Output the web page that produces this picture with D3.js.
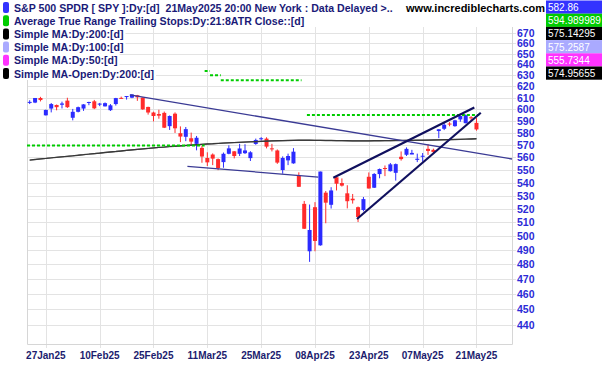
<!DOCTYPE html>
<html>
<head>
<meta charset="utf-8">
<script src="https://cdn.jsdelivr.net/npm/d3@7"></script>
<style>
  body { margin: 0; background: #fff; }
  svg { display: block; font-family: "Liberation Sans", Arial, sans-serif; }
</style>
</head>
<body>
<svg id="chart" width="602" height="365"></svg>
<script>
// SPY daily bars, 22 Jan 2025 - 21 May 2025 (trading days only)
const dates = ['2025-01-22','2025-01-23','2025-01-24','2025-01-27','2025-01-28','2025-01-29','2025-01-30','2025-01-31',
  '2025-02-03','2025-02-04','2025-02-05','2025-02-06','2025-02-07','2025-02-10','2025-02-11','2025-02-12','2025-02-13','2025-02-14',
  '2025-02-18','2025-02-19','2025-02-20','2025-02-21','2025-02-24','2025-02-25','2025-02-26','2025-02-27','2025-02-28',
  '2025-03-03','2025-03-04','2025-03-05','2025-03-06','2025-03-07','2025-03-10','2025-03-11','2025-03-12','2025-03-13','2025-03-14',
  '2025-03-17','2025-03-18','2025-03-19','2025-03-20','2025-03-21','2025-03-24','2025-03-25','2025-03-26','2025-03-27','2025-03-28',
  '2025-03-31','2025-04-01','2025-04-02','2025-04-03','2025-04-04','2025-04-07','2025-04-08','2025-04-09','2025-04-10','2025-04-11',
  '2025-04-14','2025-04-15','2025-04-16','2025-04-17','2025-04-21','2025-04-22','2025-04-23','2025-04-24','2025-04-25',
  '2025-04-28','2025-04-29','2025-04-30','2025-05-01','2025-05-02','2025-05-05','2025-05-06','2025-05-07','2025-05-08','2025-05-09',
  '2025-05-12','2025-05-13','2025-05-14','2025-05-15','2025-05-16','2025-05-19','2025-05-20','2025-05-21'];

const opens = [606.0,605.8,609.8,594.8,600.6,603.7,603.9,607.5,
  592.7,597.8,600.6,606.0,606.9,604.0,602.5,599.2,604.5,609.9,
  610.9,610.1,612.2,610.2,602.0,597.2,595.9,596.9,585.6,
  596.2,579.7,576.7,575.5,570.9,567.6,559.4,562.2,558.5,556.1,
  562.8,564.8,562.8,563.3,559.3,570.8,575.3,575.2,567.2,565.5,
  549.8,557.5,555.1,545.1,523.7,489.2,521.2,493.4,532.2,523.0,
  544.1,539.6,531.7,527.6,521.2,519.1,544.5,536.0,546.6,
  551.4,548.9,547.6,560.4,562.0,562.2,557.9,560.6,566.8,566.0,
  581.5,583.4,587.8,585.6,591.3,588.1,593.1,588.4];
const highs = [607.8,609.8,610.8,599.7,605.4,604.1,606.6,610.0,
  600.3,602.3,604.4,606.5,608.1,605.5,605.9,604.5,609.9,611.0,
  611.5,613.2,612.5,610.3,602.2,597.9,599.6,598.0,594.7,
  597.3,585.4,584.9,580.2,577.4,569.4,564.0,563.1,559.0,563.8,
  569.7,565.0,570.9,570.6,564.9,575.2,576.4,576.3,570.9,566.3,
  560.7,562.9,567.4,548.0,525.9,523.2,525.0,548.6,533.5,536.4,
  544.3,543.2,537.9,531.2,521.7,528.9,547.9,547.4,551.0,
  553.4,555.4,555.0,564.7,568.0,566.0,562.9,563.4,570.6,567.0,
  583.0,589.1,589.0,591.0,594.5,595.5,594.1,592.6];
const lows = [604.5,605.3,606.8,594.6,597.3,599.1,600.7,601.1,
  590.5,597.3,598.6,603.5,600.1,602.7,602.4,598.5,603.2,609.1,
  608.4,609.6,607.3,599.5,595.4,589.6,591.9,584.0,582.4,
  579.9,572.3,573.1,570.1,565.6,555.6,553.0,553.7,549.7,551.6,
  562.4,559.1,561.0,562.6,557.0,570.1,573.6,567.2,564.7,554.7,
  546.9,553.7,554.8,536.7,505.1,481.8,489.2,493.1,509.3,520.2,
  533.9,536.9,520.3,523.9,510.2,518.1,535.4,535.8,543.3,
  545.0,548.6,541.5,557.3,561.0,562.5,556.1,556.5,561.9,562.8,
  575.6,582.3,585.5,585.1,589.3,588.0,589.7,581.8];
const closes = [606.4,609.8,608.0,599.4,604.5,601.8,605.0,601.8,
  597.8,601.8,604.2,606.3,600.8,604.9,605.3,603.4,609.7,609.7,
  611.5,612.9,610.4,599.9,597.2,594.2,594.5,584.3,594.2,
  583.8,576.9,583.1,572.7,575.9,560.6,555.9,558.9,551.4,562.8,
  567.2,561.0,567.1,565.5,564.0,574.1,575.5,568.6,567.1,555.7,
  559.4,561.0,564.5,536.7,505.3,504.4,496.5,548.6,524.6,533.9,
  539.1,537.6,525.7,526.4,513.9,527.3,535.4,546.7,550.6,
  550.9,554.3,554.5,558.5,566.8,563.5,558.8,561.2,565.1,564.3,
  583.0,586.8,587.6,590.5,594.2,594.9,592.9,582.86];

// Simple MA 200 (close) and Simple MA 200 (open)
const ma200 = [557.8,558.3,558.7,559.1,559.6,560.0,560.4,560.8,561.2,561.7,
  562.1,562.6,563.0,563.4,563.9,564.3,564.7,565.2,565.6,566.0,
  566.4,566.8,567.2,567.6,568.0,568.3,568.7,569.0,569.3,569.6,
  569.9,570.2,570.5,570.8,571.0,571.3,571.6,571.8,572.0,572.2,
  572.4,572.6,572.8,573.0,573.2,573.4,573.5,573.6,573.7,573.8,
  573.9,573.9,573.9,573.8,573.8,573.7,573.7,573.6,573.6,573.5,
  573.4,573.4,573.4,573.4,573.5,573.5,573.6,573.6,573.7,573.7,
  573.8,573.8,573.9,573.9,574.0,574.1,574.2,574.3,574.4,574.6,
  574.7,574.9,575.0,575.14];
const ma200Open = [557.6,558.1,558.6,559.0,559.4,559.9,560.3,560.7,561.1,561.5,
  562.0,562.4,562.9,563.3,563.7,564.2,564.6,565.0,565.5,565.9,
  566.3,566.7,567.1,567.5,567.9,568.2,568.6,568.9,569.2,569.5,
  569.8,570.1,570.4,570.7,570.9,571.2,571.5,571.7,571.9,572.1,
  572.3,572.5,572.7,572.9,573.1,573.3,573.4,573.5,573.6,573.7,
  573.8,573.8,573.8,573.7,573.7,573.6,573.6,573.5,573.5,573.4,
  573.3,573.3,573.3,573.3,573.4,573.4,573.5,573.5,573.6,573.6,
  573.7,573.7,573.8,573.8,573.9,574.0,574.1,574.2,574.3,574.4,
  574.6,574.7,574.8,574.96];

// ATR trailing stop, 21 days x 8 ATR (null = not shown)
const atrStop = [569.5,569.5,569.5,569.5,569.5,569.5,569.5,569.5,569.5,569.5,
  569.5,569.5,569.5,569.5,569.5,569.5,569.5,569.5,569.5,569.5,
  569.5,569.5,569.5,569.5,569.5,569.5,569.5,569.5,569.5,569.5,
  569.5,569.5,569.5,634.0,630.0,630.0,625.5,625.5,625.5,625.5,
  625.5,625.5,625.5,625.5,625.5,625.5,625.5,625.5,625.5,625.5,
  625.5,null,594.99,594.99,594.99,594.99,594.99,594.99,594.99,594.99,
  594.99,594.99,594.99,594.99,594.99,594.99,594.99,594.99,594.99,594.99,
  594.99,594.99,594.99,594.99,594.99,594.99,594.99,594.99,594.99,594.99,
  594.99,594.99,594.99,594.99];

// hand drawn trend lines: [bar index, price] end points
const thinLines = [
  [[18.6, 612.5], [89.6, 558.6]],
  [[29.3, 552.7], [53.6, 544.3]]
];
const wedgeLines = [
  [[56.4, 543.8], [82.6, 601.5]],
  [[60.8, 512.4], [83.8, 597.0]]
];

const xTickIdx = [3, 13, 23, 33, 43, 53, 63, 73, 83];
const xTickLabels = ['27Jan25','10Feb25','25Feb25','11Mar25','25Mar25','08Apr25','23Apr25','07May25','21May25'];
const yTicks = d3.range(440, 671, 10);

const legendNames = ['S&P 500 SPDR [ SPY ]:Dy:[d]  21May2025 20:00 New York : Data Delayed >..',
  'Average True Range Trailing Stops:Dy:21:8ATR Close::[d]',
  'Simple MA:Dy:200:[d]',
  'Simple MA:Dy:100:[d]',
  'Simple MA:Dy:50:[d]',
  'Simple MA-Open:Dy:200:[d]'];
const legendValues = ['582.86', '594.989989', '575.14295', '575.2587', '555.7344', '574.95655'];
const legendColors = ['#3333ff', '#00cc00', '#000000', '#aaaaff', '#ff33ff', '#000000'];

const svg = d3.select('#chart');
const plotLeft = 27, plotRight = 512, plotTop = 27, plotBottom = 344;

const x = d3.scaleLinear().domain([-0.5, 89.6]).range([plotLeft, plotRight]);
const y = d3.scaleLog().domain([440, 670]).range([325, 32.5]);

svg.append('rect').attr('width', 602).attr('height', 365).attr('fill', '#fff');

// grid
const grid = svg.append('g').attr('stroke', '#e3e3e3').attr('stroke-width', 1);
yTicks.forEach(v => {
  const yy = Math.round(y(v)) + 0.5;
  grid.append('line').attr('x1', plotLeft).attr('x2', plotRight + 4).attr('y1', yy).attr('y2', yy);
});
xTickIdx.forEach(i => {
  const xx = Math.round(x(i)) + 0.5;
  grid.append('line').attr('x1', xx).attr('x2', xx).attr('y1', plotTop).attr('y2', plotBottom + 4);
});
// frame
svg.append('path')
  .attr('d', `M${plotLeft + 0.5},${plotTop}V${plotBottom + 0.5}H${plotRight + 0.5}V${plotTop}`)
  .attr('stroke', '#d6d6d6').attr('stroke-width', 1).attr('fill', 'none');

// candles
const bars = dates.map((d, i) => ({i, o: opens[i], h: highs[i], l: lows[i], c: closes[i]}));
const candle = svg.append('g').selectAll('g').data(bars).join('g')
  .attr('fill', d => d.c >= d.o ? '#2b2bff' : '#ff2b2b')
  .attr('stroke', d => d.c >= d.o ? '#2b2bff' : '#ff2b2b');
candle.append('line')
  .attr('x1', d => x(d.i)).attr('x2', d => x(d.i))
  .attr('y1', d => y(d.h)).attr('y2', d => y(d.l))
  .attr('stroke-width', 1);
candle.append('rect')
  .attr('x', d => x(d.i) - 2)
  .attr('width', 4)
  .attr('y', d => y(Math.max(d.o, d.c)))
  .attr('height', d => Math.max(1, Math.abs(y(d.o) - y(d.c))))
  .attr('stroke', 'none');

// moving averages
const maLine = d3.line().x((d, i) => x(i)).y(d => y(d));
svg.append('path').datum(ma200Open).attr('d', maLine)
  .attr('fill', 'none').attr('stroke', '#505050').attr('stroke-width', 1.2);
svg.append('path').datum(ma200).attr('d', maLine)
  .attr('fill', 'none').attr('stroke', '#383838').attr('stroke-width', 1.2);

// ATR stop as runs of equal value
let runs = [];
atrStop.forEach((v, i) => {
  if (v === null) return;
  const last = runs[runs.length - 1];
  if (last && last.v === v && last.end === i - 1) last.end = i;
  else runs.push({v, start: i, end: i});
});
svg.append('g').selectAll('line').data(runs).join('line')
  .attr('x1', d => x(d.start - 0.5)).attr('x2', d => x(d.end + 0.5))
  .attr('y1', d => y(d.v)).attr('y2', d => y(d.v))
  .attr('stroke', '#00cc00').attr('stroke-width', 2).attr('stroke-dasharray', '3,2');

// trend lines
svg.append('g').selectAll('line').data(thinLines).join('line')
  .attr('x1', d => x(d[0][0])).attr('y1', d => y(d[0][1]))
  .attr('x2', d => x(d[1][0])).attr('y2', d => y(d[1][1]))
  .attr('stroke', '#3a3a94').attr('stroke-width', 1.3);
svg.append('g').selectAll('line').data(wedgeLines).join('line')
  .attr('x1', d => x(d[0][0])).attr('y1', d => y(d[0][1]))
  .attr('x2', d => x(d[1][0])).attr('y2', d => y(d[1][1]))
  .attr('stroke', '#10105e').attr('stroke-width', 2.2);

// right price axis
svg.append('g').selectAll('text').data(yTicks).join('text')
  .attr('x', 517).attr('y', d => y(d) + 4)
  .attr('font-size', 10.5).attr('font-weight', 'bold').attr('fill', '#2b2bd6')
  .text(d => d);

// date axis
svg.append('g').selectAll('text').data(xTickIdx).join('text')
  .attr('x', d => x(d)).attr('y', 359)
  .attr('text-anchor', 'middle')
  .attr('font-size', 10).attr('font-weight', 'bold').attr('fill', '#1c1c6e')
  .text((d, k) => xTickLabels[k]);

// legend
const legend = svg.append('g');
legendNames.forEach((name, k) => {
  const cy = 7.5 + k * 13.2;
  const row = legend.append('g');
  const bg = row.append('rect').attr('x', 0).attr('y', cy - 6.5).attr('height', 13).attr('fill', '#fff');
  row.append('rect').attr('x', 3).attr('y', cy - 5.5).attr('width', 6).attr('height', 11).attr('rx', 2)
    .attr('fill', legendColors[k]);
  const t = row.append('text').attr('x', 14).attr('y', cy + 4)
    .attr('font-size', 10.6).attr('font-weight', 'bold').attr('fill', '#1a1a78')
    .style('white-space', 'pre')
    .text(name);
  bg.attr('width', 16 + t.node().getComputedTextLength());
});

svg.append('text').attr('x', 545).attr('y', 12).attr('text-anchor', 'end')
  .attr('font-size', 11).attr('font-weight', 'bold').attr('fill', '#000')
  .text('www.incrediblecharts.com');

const values = svg.append('g');
legendValues.forEach((v, k) => {
  const y0 = 0.5 + k * 13.2;
  values.append('rect').attr('x', 546).attr('y', y0).attr('width', 56).attr('height', 13.2)
    .attr('fill', legendColors[k]);
  values.append('text').attr('x', 548).attr('y', y0 + 10.5)
    .attr('font-size', 10).attr('fill', '#fff')
    .text(v);
});
</script>
</body>
</html>
